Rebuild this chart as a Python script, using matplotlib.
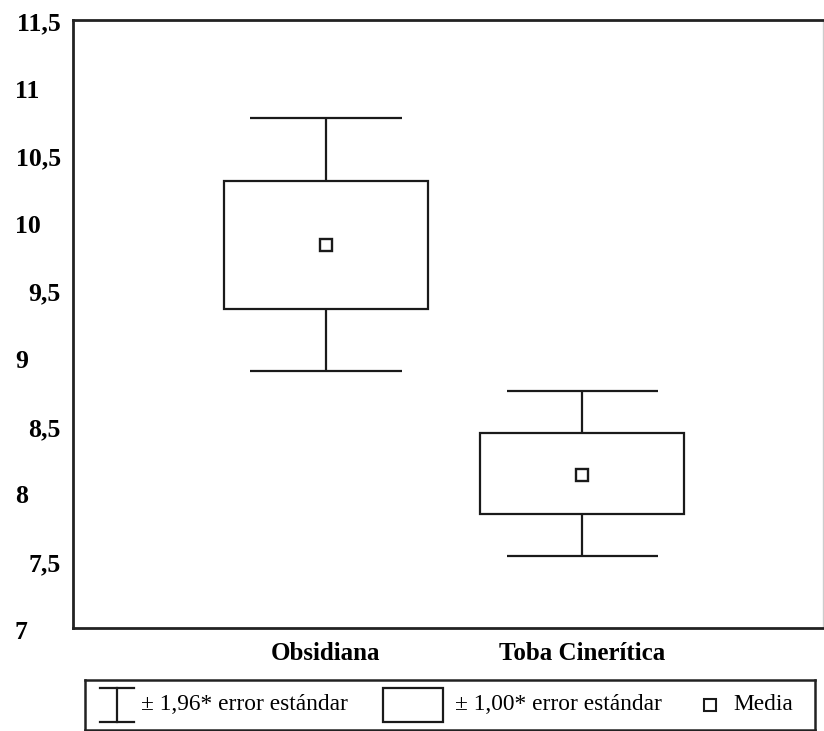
import matplotlib
matplotlib.use("Agg")
import matplotlib.pyplot as plt
from matplotlib.patches import Rectangle
from matplotlib.lines import Line2D
import matplotlib.transforms as mtransforms

plt.rcParams['font.family'] = ['Liberation Serif', 'DejaVu Serif']

# datos
grupos = ["Obsidiana", "Toba Cinerítica"]
media = [9.835, 8.13]
caja_inf = [9.36, 7.845]
caja_sup = [10.31, 8.445]
bigote_inf = [8.90, 7.535]
bigote_sup = [10.775, 8.755]

yticks = [7, 7.5, 8, 8.5, 9, 9.5, 10, 10.5, 11, 11.5]
yticklab = ["7", "7,5", "8", "8,5", "9", "9,5", "10", "10,5", "11", "11,5"]

pos = [1, 2]
ancho_caja = 0.8
ancho_tapa = 0.59

fig = plt.figure(figsize=(8.24, 7.31), dpi=100)
ax = fig.add_axes([73/824, 103/731, 750/824, 608/731])

for i in range(len(grupos)):
    x = pos[i]
    ax.add_patch(Rectangle((x - ancho_caja/2, caja_inf[i]), ancho_caja,
                           caja_sup[i] - caja_inf[i], fill=False,
                           edgecolor='#1a1a1a', lw=1.6, zorder=2))
    ax.vlines(x, caja_sup[i], bigote_sup[i], color='#1a1a1a', lw=1.6)
    ax.vlines(x, bigote_inf[i], caja_inf[i], color='#1a1a1a', lw=1.6)
    ax.hlines([bigote_inf[i], bigote_sup[i]], x - ancho_tapa/2, x + ancho_tapa/2,
              color='#1a1a1a', lw=1.6)
    ax.plot(x, media[i], 's', ms=8.5, mfc='white', mec='#1a1a1a', mew=1.7, zorder=3)

ax.set_xlim(0.012, 2.941)
ax.set_ylim(7, 11.5)
ax.set_xticks(pos)
ax.set_xticklabels(grupos, fontsize=18, fontweight='bold')
ax.tick_params(axis='x', length=0, pad=10)
ax.set_yticks([])

# etiquetas del eje y: enteros alineados a la izquierda, medios a la derecha
trans = mtransforms.blended_transform_factory(fig.transFigure, ax.transData)
for v, t in zip(yticks, yticklab):
    if float(v).is_integer():
        ax.text(15/824, v - 0.03, t, transform=trans, ha='left', va='center',
                fontsize=18.5, fontweight='bold', clip_on=False)
    else:
        ax.text(61/824, v - 0.03, t, transform=trans, ha='right', va='center',
                fontsize=18.5, fontweight='bold', clip_on=False)

for s in ['left', 'top', 'bottom']:
    ax.spines[s].set_linewidth(2.0)
    ax.spines[s].set_color('#222222')
ax.spines['right'].set_linewidth(1.0)
ax.spines['right'].set_color('#cccccc')

# leyenda
lg = fig.add_axes([85/824, 1/731, 730/824, 50/731])
lg.set_xlim(85, 815)
lg.set_ylim(730, 680)
lg.set_xticks([])
lg.set_yticks([])
for s in lg.spines.values():
    s.set_linewidth(1.8)
    s.set_color('#222222')

lg.add_line(Line2D([117, 117], [688, 722], color='#1a1a1a', lw=1.6))
lg.add_line(Line2D([100, 134], [688, 688], color='#1a1a1a', lw=1.6))
lg.add_line(Line2D([100, 134], [722, 722], color='#1a1a1a', lw=1.6))
lg.text(141, 705, "± 1,96* error estándar", ha='left', va='center', fontsize=16.8)

lg.add_patch(Rectangle((383, 688), 60, 34, fill=False,
                       edgecolor='#1a1a1a', lw=1.6))
lg.text(455, 705, "± 1,00* error estándar", ha='left', va='center', fontsize=16.8)

lg.plot(710, 705, 's', ms=9, mfc='white', mec='#1a1a1a', mew=1.5)
lg.text(733, 705, "Media", ha='left', va='center', fontsize=16.8)

fig.savefig("out.png", dpi=100)
